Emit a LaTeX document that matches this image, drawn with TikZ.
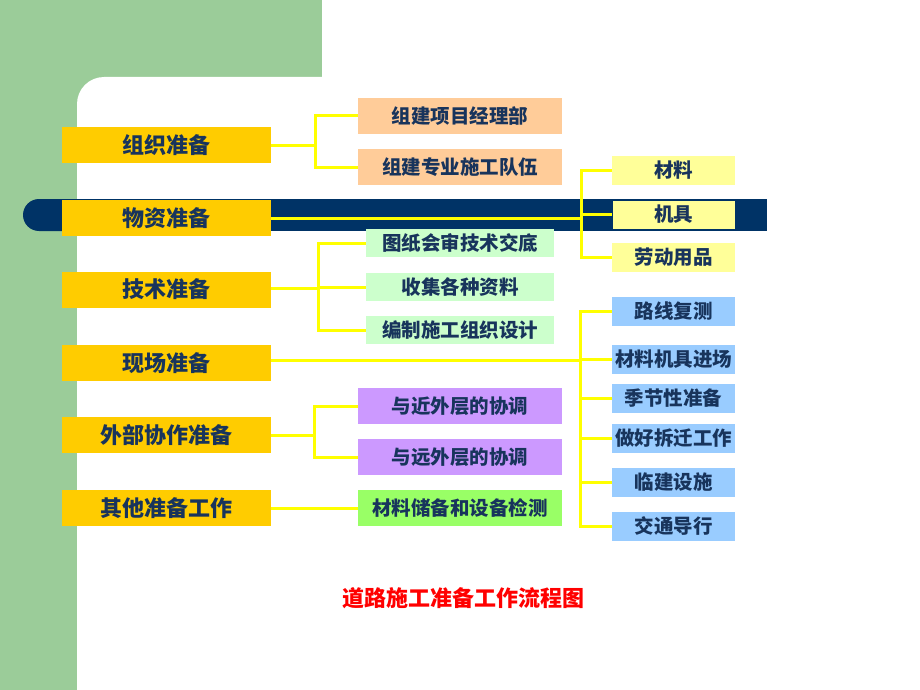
\documentclass[tikz,border=0pt]{standalone}
\usepackage{fontspec}
\newfontfamily\cjk{Noto Sans CJK SC}

\definecolor{bggreen}{RGB}{155,204,153}
\definecolor{barblue}{RGB}{0,51,102}
\definecolor{textblue}{RGB}{24,52,92}
\definecolor{gold}{RGB}{255,204,0}
\definecolor{peach}{RGB}{255,204,153}
\definecolor{mint}{RGB}{204,255,204}
\definecolor{lemon}{RGB}{255,255,153}
\definecolor{sky}{RGB}{153,204,255}
\definecolor{lilac}{RGB}{204,153,255}
\definecolor{lime}{RGB}{153,255,102}
\definecolor{linkyellow}{RGB}{255,255,0}

\tikzset{
  mainbox/.style={fill=gold, text=textblue, minimum width=209pt, minimum height=36pt,
    inner sep=0pt, font=\cjk\bfseries\fontsize{22}{26}\selectfont},
  widebox/.style={text=textblue, minimum width=204pt, minimum height=36pt,
    inner sep=0pt, font=\cjk\bfseries\fontsize{19.5}{23}\selectfont},
  slimbox/.style={text=textblue, minimum width=188pt, minimum height=28pt,
    inner sep=0pt, font=\cjk\bfseries\fontsize{19.5}{23}\selectfont},
  smallbox/.style={text=textblue, minimum width=123pt, minimum height=29pt,
    inner sep=0pt, font=\cjk\bfseries\fontsize{19.5}{23}\selectfont},
  link/.style={draw=linkyellow, line width=3pt}
}

\begin{document}
\begin{tikzpicture}[x=1pt,y=-1pt]

        \useasboundingbox (0,0) rectangle (920,690);
        \fill[white] (0,0) rectangle (920,690);
        \fill[bggreen] (0,0) rectangle (322,110);
        \fill[bggreen] (0,0) rectangle (110,690);
        \fill[white, rounded corners=27pt] (77,77) rectangle (960,730);
        \fill[barblue, rounded corners=16pt] (23,199) rectangle (120,231);
        \fill[barblue] (60,199) rectangle (767,231);

        \begin{scope}[every node/.style={mainbox}]
          \node (m1) at (166.5,145)   {组织准备};
          \node (m2) at (166.5,218)   {物资准备};
          \node (m3) at (166.5,289.5) {技术准备};
          \node (m4) at (166.5,363)   {现场准备};
          \node (m5) at (166.5,435)   {外部协作准备};
          \node (m6) at (166.5,508)   {其他准备工作};
        \end{scope}

        \begin{scope}[every node/.style={widebox}]
          \node[fill=peach] (p1) at (460,116) {组建项目经理部};
          \node[fill=peach] (p2) at (460,167) {组建专业施工队伍};
          \node[fill=lilac] (w1) at (460,406) {与近外层的协调};
          \node[fill=lilac] (w2) at (460,457) {与远外层的协调};
          \node[fill=lime]  (g1) at (460,508) {材料储备和设备检测};
        \end{scope}

        \begin{scope}[every node/.style={slimbox, fill=mint}]
          \node (t1) at (460,243) {图纸会审技术交底};
          \node (t2) at (460,287) {收集各种资料};
          \node (t3) at (460,330) {编制施工组织设计};
        \end{scope}

        \begin{scope}[every node/.style={smallbox}]
          \node[fill=lemon] (y1) at (673.5,170.5) {材料};
          \node[fill=lemon, draw=barblue, line width=0.8pt] (y2) at (673.5,214.5) {机具};
          \node[fill=lemon] (y3) at (673.5,257.5) {劳动用品};
          \node[fill=sky] (s1) at (673.5,311)   {路线复测};
          \node[fill=sky] (s2) at (673.5,359)   {材料机具进场};
          \node[fill=sky] (s3) at (673.5,398.5) {季节性准备};
          \node[fill=sky] (s4) at (673.5,438.5) {做好拆迁工作};
          \node[fill=sky] (s5) at (673.5,482.5) {临建设施};
          \node[fill=sky] (s6) at (673.5,526)   {交通导行};
        \end{scope}

        \coordinate (j1) at (315,145);
        \coordinate (j2) at (581,218);
        \coordinate (j3) at (318,288);
        \coordinate (j4) at (580,360);
        \coordinate (j5) at (314,435);

        \begin{scope}[every path/.style={link}]
          \path (m1.east) -- (j1);
          \path (j1) |- (p1.west);
          \path (j1) |- (p2.west);
          \path (m2.east) -- (j2);
          \path (j2) |- (y1.west);
          \path (j2) |- (y2.west);
          \path (j2) |- (y3.west);
          \path (m3.east |- j3) -- (j3);
          \path (j3) |- (t1.west);
          \path (j3) |- (t2.west);
          \path (j3) |- (t3.west);
          \path (m4.east |- j4) -- (j4);
          \path (j4) |- (s1.west);
          \path (j4) |- (s2.west);
          \path (j4) |- (s3.west);
          \path (j4) |- (s4.west);
          \path (j4) |- (s5.west);
          \path (j4) |- (s6.west);
          \path (m5.east) -- (j5);
          \path (j5) |- (w1.west);
          \path (j5) |- (w2.west);
          \path (m6.east) -- (g1.west);
        \end{scope}

        \node[text=red, font=\cjk\bfseries\fontsize{22}{26}\selectfont] (title) at (463,598) {道路施工准备工作流程图};

      \end{tikzpicture}
\end{document}
